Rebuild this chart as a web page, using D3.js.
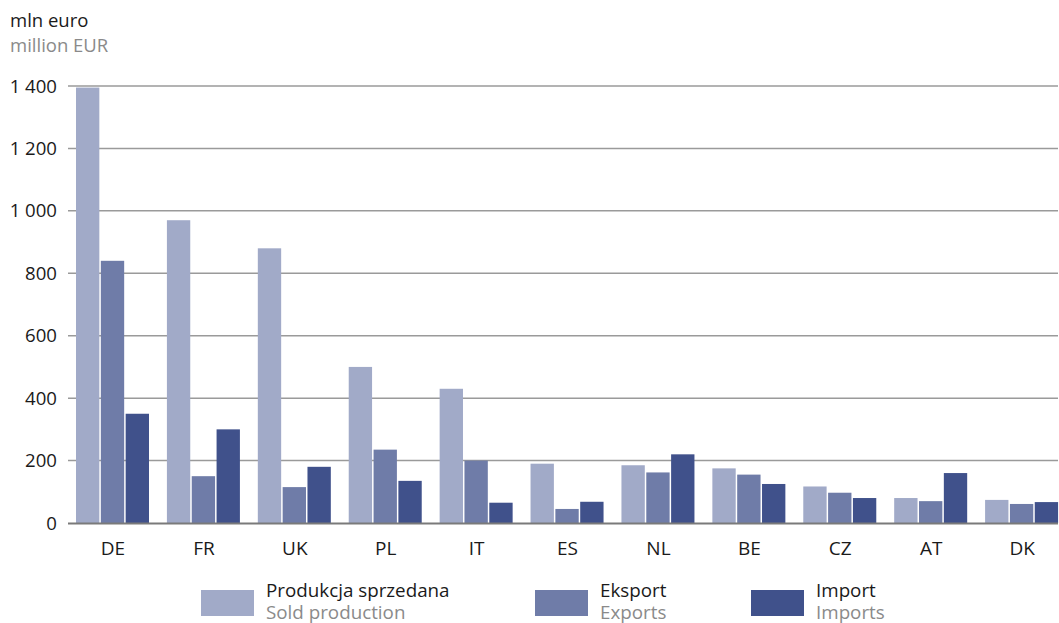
<!DOCTYPE html>
<html><head><meta charset="utf-8">
<script src="https://cdn.jsdelivr.net/npm/d3@7"></script>
<style>body{margin:0;background:#fff}svg{display:block}text{font-family:"Open Sans","Noto Sans",sans-serif}</style>
</head><body><svg id="c" width="1059" height="623"></svg>
<script>
const categories = ["DE","FR","UK","PL","IT","ES","NL","BE","CZ","AT","DK"];
const seriesKeys = ["prod","exp","imp"];
const seriesPL = ["Produkcja sprzedana","Eksport","Import"];
const seriesEN = ["Sold production","Exports","Imports"];
const colors = ["#a1aac8","#6f7ca8","#40518b"];
const soldProduction = [1395,970,880,500,430,190,185,175,117,80,74];
const exportsVals    = [840,150,115,235,200,45,162,155,97,70,61];
const importsVals    = [350,300,180,135,65,68,220,125,80,160,67];
const yTicks = [0,200,400,600,800,1000,1200,1400];
const tickLabels = ["0","200","400","600","800","1 000","1 200","1 400"];

(function(){
const svg = d3.select("#c");
const pLeft = 68, pRight = 1058, pBottom = 523, pTop = 86;
const y = d3.scaleLinear().domain([0,1400]).range([pBottom, pTop]);
const x0 = d3.scaleBand().domain(categories).range([68, 1068]).padding(0);
const x1 = d3.scaleBand().domain(seriesKeys).range([8, 81]).paddingInner(0.06);
const data = [soldProduction, exportsVals, importsVals];

svg.append("g").selectAll("line").data(yTicks.filter(d=>d>0)).join("line")
  .attr("x1", pLeft).attr("x2", pRight)
  .attr("y1", d=>y(d)).attr("y2", d=>y(d))
  .attr("stroke", "#9a9a9a").attr("stroke-width", 1.5);

svg.append("g").selectAll("text").data(yTicks).join("text")
  .attr("x", 57).attr("y", d=>y(d)).attr("dy","0.35em")
  .attr("text-anchor","end").attr("font-size", 18.6).attr("fill","#1a1a1a")
  .text((d,i)=>tickLabels[i]);

const g = svg.append("g");
seriesKeys.forEach((k, si) => {
  g.selectAll(".b"+si).data(categories).join("rect")
    .attr("class","b"+si)
    .attr("x", c => x0(c) + x1(k))
    .attr("width", x1.bandwidth())
    .attr("y", (c,i) => y(data[si][i]))
    .attr("height", (c,i) => y(0) - y(data[si][i]))
    .attr("fill", colors[si]);
});

svg.append("line").attr("x1", pLeft).attr("x2", pRight).attr("y1", pBottom+0.5).attr("y2", pBottom+0.5)
  .attr("stroke","#7a7a7a").attr("stroke-width",2);

svg.append("g").selectAll("text").data(categories).join("text")
  .attr("x", c => x0(c) + 8 + 37).attr("y", 548).attr("dy","0.35em")
  .attr("text-anchor","middle").attr("font-size",19).attr("fill","#1a1a1a")
  .text(c=>c);

svg.append("text").attr("x",10).attr("y",27).attr("font-size",18.5).attr("fill","#1a1a1a").text("mln euro");
svg.append("text").attr("x",10).attr("y",52).attr("font-size",18.5).attr("fill","#8a8a8a").text("million EUR");

const legX = [201, 535, 751];
const lg = svg.append("g");
seriesKeys.forEach((k,i)=>{
  lg.append("rect").attr("x",legX[i]).attr("y",590).attr("width",53).attr("height",26).attr("fill",colors[i]);
  lg.append("text").attr("x",legX[i]+65).attr("y",597).attr("font-size",18.8).attr("fill","#1a1a1a").text(seriesPL[i]);
  lg.append("text").attr("x",legX[i]+65).attr("y",619).attr("font-size",18.8).attr("fill","#8a8a8a").text(seriesEN[i]);
});
})();
</script></body></html>
